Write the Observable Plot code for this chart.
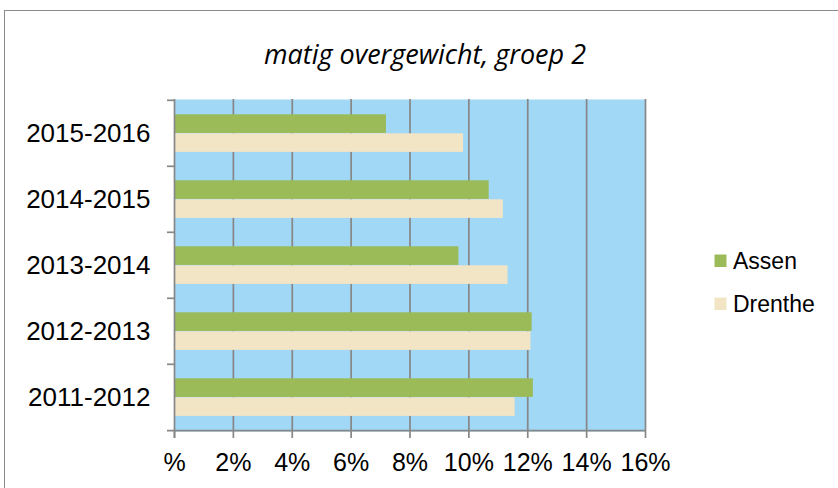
<!DOCTYPE html>
<html>
<head>
<meta charset="utf-8">
<script src="https://cdn.jsdelivr.net/npm/d3@7"></script>
<script src="https://cdn.jsdelivr.net/npm/@observablehq/plot@0.6"></script>
<style>
  html, body { margin: 0; padding: 0; background: #fff; overflow: hidden; width: 838px; height: 488px; }
  #wrap { position: relative; width: 838px; height: 488px; overflow: hidden; }
  #border { position: absolute; left: 4px; top: 10px; width: 1000px; height: 1000px; border: 1.5px solid #8a8a8a; box-sizing: border-box; }
  #chart { position: absolute; left: 0; top: 0; }
  #title { position: absolute; left: 0; top: 0; width: 850px; height: 80px; }
  #legend { position: absolute; left: 700px; top: 240px; width: 138px; height: 90px; }
  #title text { font-family: "Open Sans", sans-serif; font-style: italic; font-size: 27px; fill: #000; }
  #legend text { font-family: "Liberation Sans", Arial, sans-serif; font-size: 23px; fill: #000; }
</style>
</head>
<body>
<div id="wrap">
  <div id="border"></div>
  <div id="chart"></div>
  <svg id="title" width="850" height="80"><text x="425" y="64" text-anchor="middle">matig overgewicht, groep 2</text></svg>
  <svg id="legend" width="138" height="90"></svg>
</div>
<script>
// ---- data ----
const years = ["2011-2012", "2012-2013", "2013-2014", "2014-2015", "2015-2016"];
const assen = [12.19, 12.15, 9.66, 10.69, 7.2];
const drenthe = [11.57, 12.11, 11.33, 11.17, 9.82];
const series = ["Assen", "Drenthe"];
const xTicks = [0, 2, 4, 6, 8, 10, 12, 14, 16];
const xTickLabels = ["%", "2%", "4%", "6%", "8%", "10%", "12%", "14%", "16%"];

// ---- style ----
const colors = ["#9BBB59", "#F2E5C6"];
const bg = "#A0D8F6";
const gridColor = "#878787";

const W = 838, H = 488;
const M = {top: 99, right: 193, bottom: 57, left: 174};
const step = (H - M.top - M.bottom) / years.length;

const rows = years.flatMap((y, i) => [
  {year: y, series: series[0], value: assen[i]},
  {year: y, series: series[1], value: drenthe[i]}
]);

const chart = Plot.plot({
  width: W,
  height: H,
  marginTop: M.top,
  marginRight: M.right,
  marginBottom: M.bottom,
  marginLeft: M.left,
  style: {fontFamily: "'Liberation Sans', Arial, sans-serif", background: "transparent", color: "#000"},
  x: {domain: [0, 16], axis: null},
  y: {domain: years.slice().reverse(), padding: 0, axis: null},
  marks: [
    Plot.frame({fill: bg, stroke: null}),
    Plot.ruleX(xTicks.filter(d => d > 0), {stroke: gridColor, strokeWidth: 1.7}),
    Plot.barX(rows.filter(d => d.series === series[0]), {
      x: "value", y: "year", fill: colors[0],
      insetTop: 14.3, insetBottom: step - 33.3
    }),
    Plot.barX(rows.filter(d => d.series === series[1]), {
      x: "value", y: "year", fill: colors[1],
      insetTop: 33.3, insetBottom: 14.1
    }),
    Plot.ruleX([0], {stroke: gridColor, strokeWidth: 1.7, insetBottom: -7}),
    Plot.ruleY(years, {y: d => d, x1: 0, x2: 0, insetLeft: -7, dy: -step / 2, stroke: gridColor, strokeWidth: 1.7}),
    Plot.ruleY([years[0]], {y: d => d, x1: 0, x2: 16, insetLeft: -7, dy: step / 2, stroke: gridColor, strokeWidth: 1.7}),
    Plot.axisX(xTicks, {
      tickSize: 7, tickPadding: 15, stroke: gridColor, strokeWidth: 1.7, fill: "#000",
      fontSize: 25, label: null, tickFormat: (d) => xTickLabels[xTicks.indexOf(d)]
    }),
    Plot.axisY({tickSize: 0, tickPadding: 24, fontSize: 26, fill: "#000", label: null})
  ]
});
document.getElementById("chart").appendChild(chart);

// legend
const leg = d3.select("#legend");
series.forEach((s, i) => {
  const g = leg.append("g").attr("transform", `translate(0, ${i * 43})`);
  g.append("rect").attr("x", 14.5).attr("y", 14.5).attr("width", 12).attr("height", 12.5).attr("fill", colors[i]);
  g.append("text").attr("x", 33).attr("y", 29).text(s);
});
</script>
</body>
</html>
